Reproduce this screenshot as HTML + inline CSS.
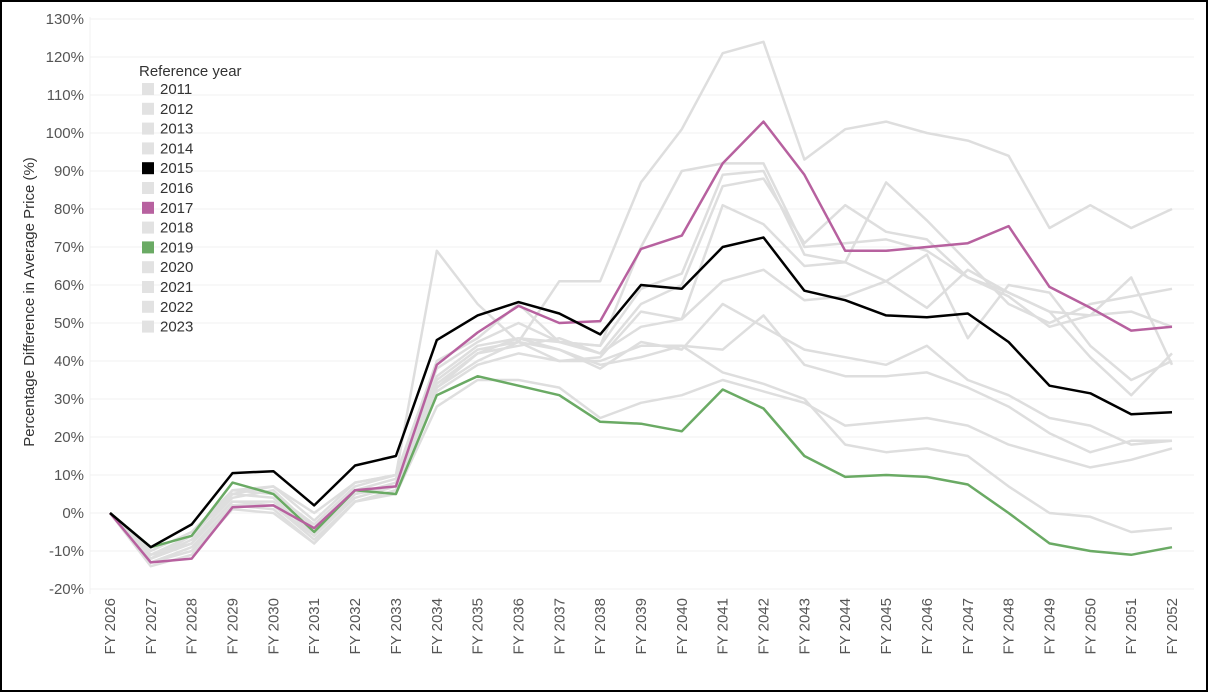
<!DOCTYPE html>
<html><head><meta charset="utf-8"><style>
html,body{margin:0;padding:0;background:#fff}
#wrap{width:1208px;height:692px;box-sizing:border-box;border:2px solid #000;position:relative;overflow:hidden}
svg text{font-family:"Liberation Sans",sans-serif}
</style></head><body>
<div id="wrap">
<svg id="chart" width="1204" height="688"></svg>
</div>
<script>
const categories=["FY 2026","FY 2027","FY 2028","FY 2029","FY 2030","FY 2031","FY 2032","FY 2033","FY 2034","FY 2035","FY 2036","FY 2037","FY 2038","FY 2039","FY 2040","FY 2041","FY 2042","FY 2043","FY 2044","FY 2045","FY 2046","FY 2047","FY 2048","FY 2049","FY 2050","FY 2051","FY 2052"];
const yTicks=[-20,-10,0,10,20,30,40,50,60,70,80,90,100,110,120,130];
const legendYears=["2011","2012","2013","2014","2015","2016","2017","2018","2019","2020","2021","2022","2023"];
const s2011=[0,-12,-6,5,7,-2,8,10,69,55,45,61,61,87,101,121,124,93,101,103,100,98,94,75,81,75,80];
const s2012=[0,-10,-5,6,5,-3,7,10,40,46,55,45,44,70,90,92,92,70,71,72,69,62,57,49,52,62,39];
const s2013=[0,-11,-6,6,7,0,8,10,38,45,50,45,44,59,63,89,90,68,66,87,77,66,55,50,55,57,59];
const s2014=[0,-12,-7,4,6,-4,6,9,36,44,46,45,42,55,60,86,88,71,81,74,72,62,58,53,41,31,42];
const s2016=[0,-11,-8,5,4,-6,5,8,35,43,45,40,41,53,51,81,76,65,66,61,68,46,60,58,44,35,40];
const s2018=[0,-12,-8,3,3,-5,5,7,34,42,44,46,42,49,51,61,64,56,57,61,54,64,58,53,52,53,49];
const s2020=[0,-13,-9,2,1,-8,3,6,33,42,46,43,38,45,43,55,49,43,41,39,44,35,31,25,23,18,19];
const s2021=[0,-12,-8,3,2,-6,4,7,33,40,45,43,39,41,44,43,52,39,36,36,37,33,28,21,16,19,19];
const s2022=[0,-13,-10,2,2,-7,3,6,32,39,42,40,40,44,44,37,34,30,18,16,17,15,7,0,-1,-5,-4];
const s2023=[0,-14,-11,1,0,-8,3,5,28,35,35,33,25,29,31,35,32,29,23,24,25,23,18,15,12,14,17];
const s2015=[0,-9,-3,10.5,11,2,12.5,15,45.5,52,55.5,52.5,47,60,59,70,72.5,58.5,56,52,51.5,52.5,45,33.5,31.5,26,26.5];
const s2017=[0,-13,-12,1.5,2,-4,6,7,39,47.5,54.5,50,50.5,69.5,73,92,103,89,69,69,70,71,75.5,59.5,54,48,49];
const s2019=[0,-9,-6,8,5,-5,6,5,31,36,33.5,31,24,23.5,21.5,32.5,27.5,15,9.5,10,9.5,7.5,0,-8,-10,-11,-9];

const NS="http://www.w3.org/2000/svg";
const svg=document.getElementById('chart');
const X0=108,X1=1170,Y0=511,PER10=38;
function xScale(i){return X0+(X1-X0)*i/(categories.length-1);}
function yScale(v){return Y0-v/10*PER10;}
function mk(t,a){const e=document.createElementNS(NS,t);for(const k in a)e.setAttribute(k,a[k]);svg.appendChild(e);return e;}

yTicks.forEach(t=>{
  const g=mk('line',{x1:88,x2:1192,y1:yScale(t),y2:yScale(t),stroke:'#f0f0f0','stroke-width':1});
  
  
  const l=mk('text',{x:82,y:yScale(t)+5,'text-anchor':'end','font-size':15,fill:'#555'});
  l.textContent=t+'%';
  
  
});
const ax=mk('line',{x1:88,x2:88,y1:15,y2:592,stroke:'#f0f0f0','stroke-width':1});


categories.forEach((c,i)=>{
  const x=xScale(i);
  const t=mk('text',{x:0,y:0,'text-anchor':'end','font-size':15,fill:'#555',transform:`translate(${x+5},${596}) rotate(-90)`});
  t.textContent=c;
  
  
});
const yt=mk('text',{x:0,y:0,'text-anchor':'middle','font-size':15,fill:'#333',transform:'translate(32,300) rotate(-90)'});
yt.textContent='Percentage Difference in Average Price (%)';



function drawLine(arr,color,name){
  const d=arr.map((v,i)=>(i?'L':'M')+xScale(i).toFixed(1)+','+yScale(v).toFixed(1)).join(' ');
  const p=mk('path',{d:d,fill:'none',stroke:color,'stroke-width':2.5,'stroke-linejoin':'round'});
  
  
}
[[s2011,'2011'],[s2012,'2012'],[s2013,'2013'],[s2014,'2014'],[s2016,'2016'],[s2018,'2018'],[s2020,'2020'],[s2021,'2021'],[s2022,'2022'],[s2023,'2023']].forEach(([a,n])=>drawLine(a,'#dedede','series-'+n));
drawLine(s2019,'#6aaa64','series-2019');
drawLine(s2017,'#b7619f','series-2017');
drawLine(s2015,'#000000','series-2015');

const lt=mk('text',{x:137,y:74,'font-size':15,fill:'#333'});
lt.textContent='Reference year';


const colors={"2015":"#000","2017":"#b7619f","2019":"#6aaa64"};
legendYears.forEach((y,i)=>{
  const cy=86+i*19.8;
  const r=mk('rect',{x:140,y:cy-5,width:12,height:12,fill:colors[y]||'#e2e2e2'});
  
  
  const t=mk('text',{x:158,y:cy+6,'font-size':15,fill:'#333'});
  t.textContent=y;
  
  
});
</script>
</body></html>
